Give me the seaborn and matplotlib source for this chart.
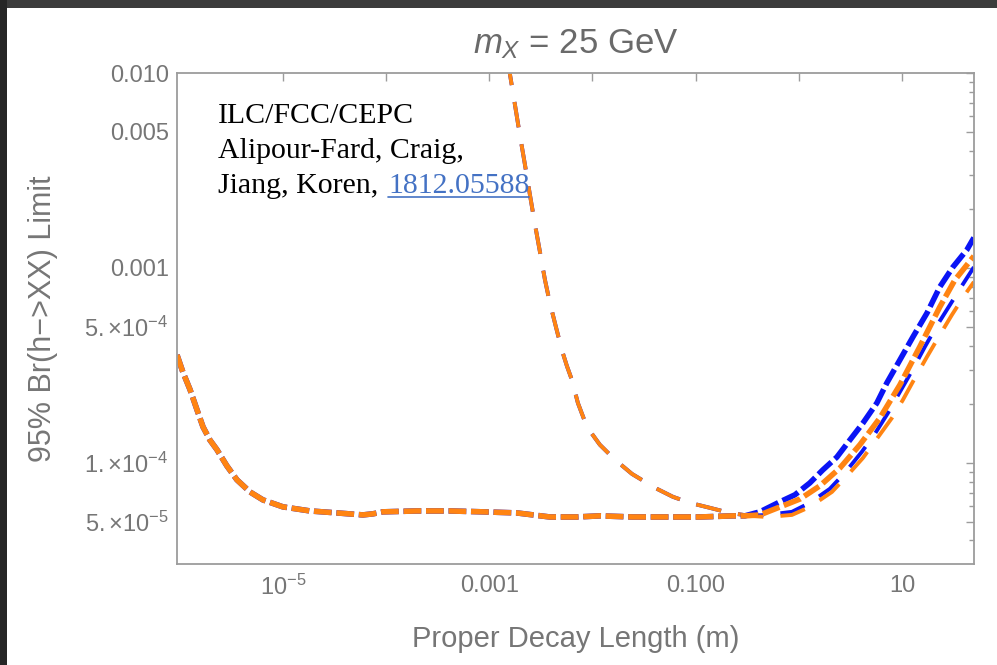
import numpy as np
import matplotlib
matplotlib.use("Agg")
import matplotlib.pyplot as plt
import seaborn as sns
from matplotlib.patches import Rectangle
from matplotlib.lines import Line2D
from matplotlib.ticker import FixedLocator, FixedFormatter, NullLocator, NullFormatter

# ---------------- data ----------------
# proper decay length (m) and 95% CL limit on Br(h -> XX), m_X = 25 GeV

# short-dash pair: common low-ctau branch
short_common_x = [9.4e-7, 1.07e-6, 1.26e-6, 1.47e-6, 1.68e-6, 1.96e-6, 2.29e-6, 2.86e-6,
                  3.58e-6, 4.79e-6, 6.4e-6, 1.0e-5, 1.83e-5, 3.34e-5, 5.96e-5, 7.45e-5,
                  9.3e-5, 1.99e-4, 4.16e-4, 8.69e-4, 1.85e-3, 3.87e-3, 7.08e-3, 1.18e-2,
                  2.47e-2, 3.6e-2, 0.11, 0.23, 0.30]
short_common_y = [3.58e-4, 2.93e-4, 2.37e-4, 1.87e-4, 1.53e-4, 1.31e-4, 1.17e-4, 9.66e-5,
                  8.19e-5, 7.10e-5, 6.46e-5, 5.95e-5, 5.67e-5, 5.54e-5, 5.41e-5, 5.48e-5,
                  5.61e-5, 5.67e-5, 5.67e-5, 5.61e-5, 5.54e-5, 5.28e-5, 5.28e-5, 5.35e-5,
                  5.28e-5, 5.28e-5, 5.28e-5, 5.35e-5, 5.35e-5]

# short-dash pair: high-ctau branches
short_blue_x = [0.42, 0.656, 0.918, 1.28, 1.71, 2.34, 3.13, 4.19, 5.72, 7.14, 9.55,
                12.8, 17.5, 23.3, 31.2, 42.7, 49.9]
short_blue_y = [5.61e-5, 6.31e-5, 6.86e-5, 7.89e-5, 9.2e-5, 1.07e-4, 1.31e-4, 1.60e-4,
                2.03e-4, 2.57e-4, 3.37e-4, 4.43e-4, 5.87e-4, 7.99e-4, 1.01e-3, 1.24e-3,
                1.43e-3]
short_orange_x = [0.42, 0.656, 1.03, 1.60, 2.51, 3.92, 6.12, 9.55, 14.9, 23.3, 32.6, 49.9]
short_orange_y = [5.41e-5, 5.94e-5, 6.53e-5, 7.62e-5, 9.42e-5, 1.24e-4, 1.70e-4, 2.51e-4,
                  3.94e-4, 6.31e-4, 8.67e-4, 1.15e-3]

# long-dash pair: common low-ctau branch
long_common_x = [1.52e-3, 1.58e-3, 1.77e-3, 1.98e-3, 2.22e-3, 2.48e-3, 2.77e-3, 3.10e-3,
                 3.47e-3, 3.87e-3, 4.43e-3, 5.06e-3, 5.66e-3, 6.32e-3, 7.23e-3, 8.85e-3,
                 1.18e-2, 1.65e-2, 2.42e-2, 4.04e-2, 6.03e-2, 8.81e-2, 0.138, 0.215, 0.336]
long_common_y = [1.17e-2, 1.0e-2, 6.93e-3, 4.81e-3, 3.38e-3, 2.37e-3, 1.68e-3, 1.21e-3,
                 8.67e-4, 6.62e-4, 4.98e-4, 3.79e-4, 3.14e-4, 2.67e-4, 2.03e-4, 1.53e-4,
                 1.24e-4, 1.04e-4, 8.78e-5, 7.45e-5, 6.70e-5, 6.24e-5, 5.88e-5, 5.54e-5,
                 5.35e-5]

# long-dash pair: high-ctau branches
long_blue_x = [0.491, 0.859, 1.28, 2.00, 2.80, 4.09, 5.47, 7.31, 9.55, 12.8, 16.7, 21.8,
               29.2, 38.1, 49.9]
long_blue_y = [5.41e-5, 5.61e-5, 6.24e-5, 7.36e-5, 8.89e-5, 1.14e-4, 1.41e-4, 1.80e-4,
               2.31e-4, 3.03e-4, 3.94e-4, 5.05e-4, 6.46e-4, 8.09e-4, 1.01e-3]
long_orange_x = [0.491, 0.859, 1.28, 2.10, 2.93, 4.19, 5.72, 8.0, 10.2, 13.4, 17.5, 23.3,
                 30.5, 40.7, 49.9]
long_orange_y = [5.28e-5, 5.41e-5, 5.94e-5, 7.10e-5, 8.57e-5, 1.06e-4, 1.33e-4, 1.70e-4,
                 2.10e-4, 2.73e-4, 3.50e-4, 4.53e-4, 5.74e-4, 7.28e-4, 8.48e-4]

x_tick_values = [1e-5, 1e-4, 1e-3, 1e-2, 1e-1, 1, 10]
x_tick_labels = [r"$10^{-5}$", "", "0.001", "", "0.100", "", "10"]
y_tick_values = [5e-5, 1e-4, 5e-4, 1e-3, 5e-3, 1e-2]
y_tick_labels = [r"$5.{\times}10^{-5}$", r"$1.{\times}10^{-4}$", r"$5.{\times}10^{-4}$",
                 "0.001", "0.005", "0.010"]

# ---------------- style ----------------
sns.set_theme(style="white")
plt.rcParams["font.family"] = ["Liberation Sans", "DejaVu Sans"]
plt.rcParams["mathtext.fontset"] = "custom"
plt.rcParams["mathtext.rm"] = "Liberation Sans"
plt.rcParams["mathtext.it"] = "Liberation Sans:italic"
plt.rcParams["mathtext.bf"] = "Liberation Sans:bold"

BLUE = "#0a14f5"
ORANGE = "#ff8412"
AXIS_GREY = "#9c9c9c"
TEXT_GREY = "#767676"

fig = plt.figure(figsize=(9.97, 6.65), dpi=100, facecolor="white")
W, H = 997.0, 665.0
ax = fig.add_axes([177 / W, 1 - 564 / H, (974 - 177) / W, (564 - 73) / H])
ax.set_facecolor("white")
ax.set_xscale("log")
ax.set_yscale("log")


def curve(x, y, color, lw, dash):
    sns.lineplot(x=np.asarray(x), y=np.asarray(y), ax=ax, color=color, linewidth=lw,
                 estimator=None, sort=False, legend=False)
    line = ax.lines[-1]
    line.set_dashes(dash)
    line.set_dash_capstyle("butt")
    line.set_solid_capstyle("butt")


LONG = (6.6, 4.4)
SHORT = (3.2, 0.85)

# long-dash pair (blue drawn first, orange on top)
curve(long_common_x + long_blue_x, long_common_y + long_blue_y, BLUE, 2.8, LONG)
curve(long_common_x + long_orange_x, long_common_y + long_orange_y, ORANGE, 2.8, LONG)
# short-dash pair
curve(short_common_x + short_blue_x, short_common_y + short_blue_y, BLUE, 4.0, SHORT)
curve(short_common_x + short_orange_x, short_common_y + short_orange_y, ORANGE, 4.0, SHORT)

ax.set_xlim(9.4e-7, 50)
ax.set_ylim(3.03e-5, 1.0e-2)

ax.xaxis.set_major_locator(FixedLocator(x_tick_values))
ax.xaxis.set_major_formatter(FixedFormatter(x_tick_labels))
ax.xaxis.set_minor_locator(NullLocator())
ax.yaxis.set_major_locator(FixedLocator(y_tick_values))
ax.yaxis.set_major_formatter(FixedFormatter(y_tick_labels))
minor_y = [k * d for d in (1e-5, 1e-4, 1e-3) for k in range(2, 10) if k != 5]
ax.yaxis.set_minor_locator(FixedLocator(minor_y))
ax.yaxis.set_minor_formatter(NullFormatter())

ax.tick_params(which="both", direction="in", top=True, right=True,
               color=AXIS_GREY, width=1.0, labelcolor=TEXT_GREY, labelsize=17)
ax.tick_params(which="major", length=6)
ax.tick_params(which="minor", length=3.8)
ax.tick_params(axis="x", pad=8)
ax.tick_params(axis="y", pad=6)
for s in ax.spines.values():
    s.set_color(AXIS_GREY)
    s.set_linewidth(1.3)

ax.set_xlabel("Proper Decay Length (m)", fontsize=21, color=TEXT_GREY, labelpad=18)
ax.set_ylabel("95% Br(h\u2212>XX) Limit", fontsize=22, color=TEXT_GREY, labelpad=19)
ax.set_title(r"$m_X$ = 25 GeV", fontsize=25, color="#6a6a6a", pad=14)

# citation block
serif = ["Liberation Serif", "DejaVu Serif"]
fs = 21.5
fig.text(218 / W, 1 - 123 / H, "ILC/FCC/CEPC", family=serif, size=fs, color="black",
         va="baseline")
fig.text(218 / W, 1 - 158 / H, "Alipour-Fard, Craig,", family=serif, size=fs,
         color="black", va="baseline")
fig.text(218 / W, 1 - 193 / H, "Jiang, Koren,", family=serif, size=fs, color="black",
         va="baseline")
link = fig.text(388 / W, 1 - 193 / H, "1812.05588", family=serif, size=fs,
                color="#4472c4", va="baseline")
fig.canvas.draw()
bb = link.get_window_extent()
uy = (H - 197) / H
fig.add_artist(Line2D([bb.x0 / W, bb.x1 / W], [uy, uy], transform=fig.transFigure,
                      color="#4472c4", lw=1.2))

# dark window frame along the top and left edges
fig.add_artist(Rectangle((0, 1 - 8 / H), 1, 8 / H, transform=fig.transFigure,
                         facecolor="#3c3c3c", edgecolor="none", zorder=10))
fig.add_artist(Rectangle((0, 0), 7 / W, 1, transform=fig.transFigure,
                         facecolor="#262626", edgecolor="none", zorder=10))

fig.savefig("out.png", dpi=100, facecolor="white")
